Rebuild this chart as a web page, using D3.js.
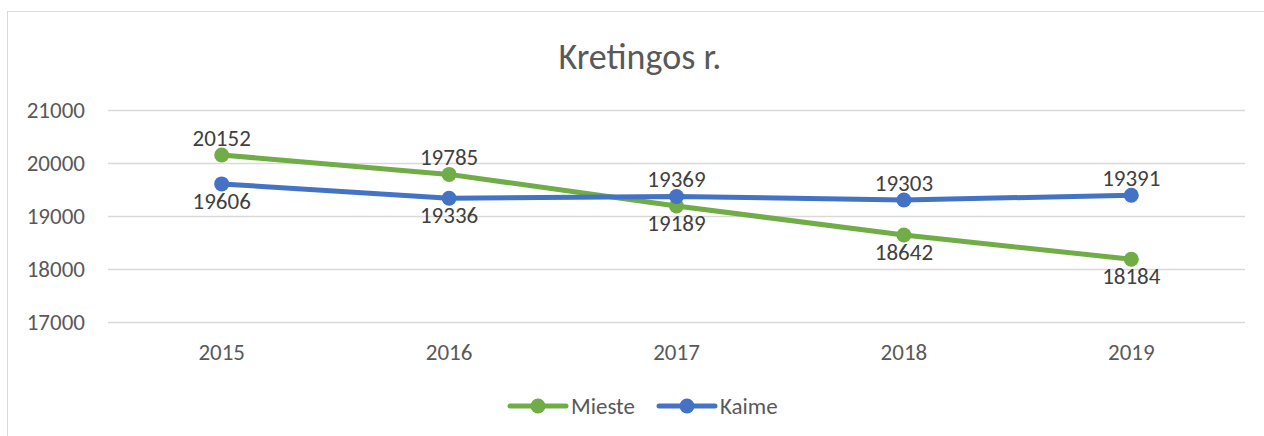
<!DOCTYPE html>
<html>
<head>
<meta charset="utf-8">
<script src="https://cdn.jsdelivr.net/npm/d3@7"></script>
<style>
  body { margin: 0; background: #fff; }
  text { font-family: Carlito, "Open Sans", sans-serif; }
</style>
</head>
<body>
<svg id="chart"></svg>
<script>
// chart data
const years = ['2015', '2016', '2017', '2018', '2019'];
const mieste = [20152, 19785, 19189, 18642, 18184];
const kaime = [19606, 19336, 19369, 19303, 19391];
const yTicks = [17000, 18000, 19000, 20000, 21000];
// which side the value label sits on (1 = above)
const miesteAbove = [1, 1, 0, 0, 0];
const kaimeAbove = [0, 0, 1, 1, 1];

const width = 1264, height = 436;
const svg = d3.select('#chart').attr('width', width).attr('height', height);

// chart frame, cut by the window on the right and bottom
svg.append('rect')
    .attr('x', 7.5).attr('y', 11.5)
    .attr('width', 1300).attr('height', 500)
    .attr('fill', '#fff')
    .attr('stroke', '#d9d9d9')
    .attr('stroke-width', 1);

const margin = { top: 110, right: 19, bottom: 114, left: 108 };
const x = d3.scaleBand().domain(years).range([margin.left, width - margin.right]);
const y = d3.scaleLinear().domain([17000, 21000]).range([height - margin.bottom, margin.top]);
const cx = i => x(years[i]) + x.bandwidth() / 2;

// grid
svg.append('g')
    .selectAll('line')
    .data(yTicks)
    .join('line')
    .attr('x1', margin.left).attr('x2', width - margin.right)
    .attr('y1', d => Math.round(y(d)) + 0.5).attr('y2', d => Math.round(y(d)) + 0.5)
    .attr('stroke', '#d9d9d9')
    .attr('stroke-width', 1.5);

// y labels
svg.append('g')
    .selectAll('text')
    .data(yTicks)
    .join('text')
    .attr('x', 85)
    .attr('y', d => y(d) + 7.5)
    .attr('text-anchor', 'end')
    .attr('font-size', '23px')
    .attr('fill', '#595959')
    .text(d => d);

// x labels
svg.append('g')
    .selectAll('text')
    .data(years)
    .join('text')
    .attr('x', d => x(d) + x.bandwidth() / 2)
    .attr('y', 360)
    .attr('text-anchor', 'middle')
    .attr('font-size', '23px')
    .attr('fill', '#595959')
    .text(d => d);

// title
svg.append('text')
    .attr('x', 640)
    .attr('y', 69)
    .attr('text-anchor', 'middle')
    .attr('font-size', '36px')
    .attr('fill', '#595959')
    .text('Kretingos r.');

const series = [
    { name: 'Mieste', values: mieste, above: miesteAbove, color: '#70ad47' },
    { name: 'Kaime', values: kaime, above: kaimeAbove, color: '#4472c4' }
];

const line = d3.line()
    .x((d, i) => cx(i))
    .y(d => y(d));

series.forEach(s => {
    const g = svg.append('g');
    g.append('path')
        .attr('d', line(s.values))
        .attr('fill', 'none')
        .attr('stroke', s.color)
        .attr('stroke-width', 5)
        .attr('stroke-linejoin', 'round');
    g.selectAll('circle')
        .data(s.values)
        .join('circle')
        .attr('cx', (d, i) => cx(i))
        .attr('cy', d => y(d))
        .attr('r', 7.5)
        .attr('fill', s.color);
    g.selectAll('text')
        .data(s.values)
        .join('text')
        .attr('x', (d, i) => cx(i))
        .attr('y', (d, i) => y(d) + (s.above[i] ? -9 : 25))
        .attr('text-anchor', 'middle')
        .attr('font-size', '23px')
        .attr('fill', '#404040')
        .text(d => d);
});

// legend
const legend = [
    { name: 'Mieste', color: '#70ad47', x0: 510 },
    { name: 'Kaime', color: '#4472c4', x0: 659 }
];
legend.forEach(l => {
    const g = svg.append('g');
    g.append('line')
        .attr('x1', l.x0).attr('x2', l.x0 + 56)
        .attr('y1', 406).attr('y2', 406)
        .attr('stroke', l.color)
        .attr('stroke-width', 5)
        .attr('stroke-linecap', 'round');
    g.append('circle')
        .attr('cx', l.x0 + 28).attr('cy', 406).attr('r', 7.5)
        .attr('fill', l.color);
    g.append('text')
        .attr('x', l.x0 + 61).attr('y', 414)
        .attr('font-size', '23px')
        .attr('fill', '#595959')
        .text(l.name);
});
</script>
</body>
</html>
